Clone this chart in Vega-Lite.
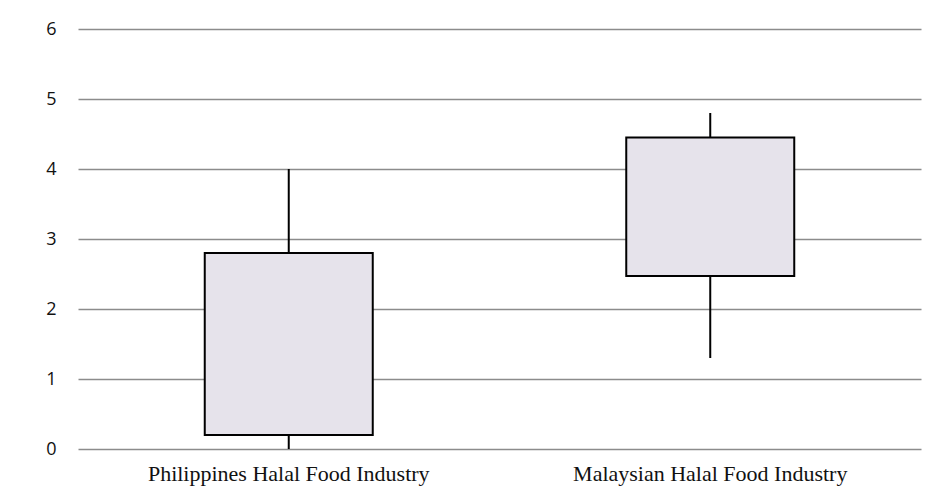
{
  "$schema": "https://vega.github.io/schema/vega-lite/v6.json",
  "autosize": "none",
  "width": 843,
  "height": 420,
  "padding": {"left": 78, "top": 29, "right": 20, "bottom": 46},
  "background": "white",
  "data": {"values": [
    {"industry": "Philippines Halal Food Industry", "min": 0, "q1": 0.2, "q3": 2.8, "max": 4.0},
    {"industry": "Malaysian Halal Food Industry", "min": 1.3, "q1": 2.47, "q3": 4.45, "max": 4.8}
  ]},
  "encoding": {
    "x": {
      "field": "industry", "type": "nominal", "sort": null,
      "scale": {"paddingInner": 0, "paddingOuter": 0},
      "axis": {"title": null, "labelAngle": 0, "ticks": false, "domain": false, "grid": false,
               "labelFont": "Liberation Serif", "labelFontSize": 22, "labelColor": "#111",
               "labelPadding": 14, "labelLimit": 0}
    }
  },
  "layer": [
    {
      "mark": {"type": "rule", "color": "black", "strokeWidth": 2},
      "encoding": {
        "y": {"field": "min", "type": "quantitative", "scale": {"domain": [0, 6]},
              "axis": {"title": null, "values": [0,1,2,3,4,5,6], "format": "d", "ticks": false, "domain": false,
                       "grid": true, "gridColor": "#8c8c8c", "gridWidth": 1.5, "gridOpacity": 1,
                       "labelOverlap": false, "labelFont": "Open Sans", "labelFontSize": 18,
                       "labelColor": "#111", "labelPadding": 22}},
        "y2": {"field": "max"}
      }
    },
    {
      "mark": {"type": "bar", "width": 168, "fill": "#e6e3eb", "stroke": "black", "strokeWidth": 2},
      "encoding": {
        "y": {"field": "q1", "type": "quantitative"},
        "y2": {"field": "q3"}
      }
    }
  ],
  "config": {"view": {"stroke": null}}
}
